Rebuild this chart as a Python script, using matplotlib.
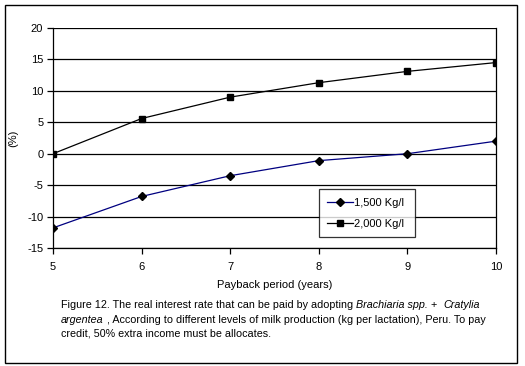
import matplotlib
matplotlib.use("Agg")
import matplotlib.pyplot as plt
from matplotlib.patches import Rectangle

plt.rcParams['font.family'] = ['Liberation Sans', 'DejaVu Sans']
plt.rcParams['axes.unicode_minus'] = False

years = [5, 6, 7, 8, 9, 10]
rate_1500 = [-11.8, -6.8, -3.5, -1.1, 0.0, 2.0]
rate_2000 = [0.0, 5.6, 9.0, 11.3, 13.1, 14.5]
labels = ["1,500 Kg/l", "2,000 Kg/l"]
yticks = [-15, -10, -5, 0, 5, 10, 15, 20]

FS = 8
CFS = 7.75
W, H = 525, 366
fig = plt.figure(figsize=(W / 100, H / 100), dpi=100)
# axes pixels: x 53..496, y 28..248 (from top)
ax = fig.add_axes([53 / W, 1 - 248 / H, (496 - 53) / W, (248 - 28) / H])

ax.plot(years, rate_1500, color='#000080', lw=0.9, marker='D', ms=4,
        mfc='black', mec='black', label=labels[0])
ax.plot(years, rate_2000, color='black', lw=0.9, marker='s', ms=4.5,
        mfc='black', mec='black', label=labels[1])

ax.set_xlim(5, 10)
ax.set_ylim(-15, 20)
ax.set_yticks(yticks)
ax.set_xticks(years)
ax.grid(axis='y', color='black', lw=0.9)
ax.set_axisbelow(True)
ax.spines['top'].set_visible(False)
for s in ['left', 'right', 'bottom']:
    ax.spines[s].set_linewidth(0.9)
ax.tick_params(axis='both', labelsize=FS, length=4, width=0.9, direction='out')
ax.tick_params(axis='y', pad=3)
ax.tick_params(axis='x', pad=6)
ax.set_xlabel("Payback period (years)", fontsize=FS, labelpad=6)
ax.set_ylabel("(%)", fontsize=FS)
ax.yaxis.set_label_coords((18 - 53) / (496 - 53), 0.5)

leg = ax.legend(loc='lower left', bbox_to_anchor=(0.60, 0.05, 0.217, 0.219),
                mode='expand', fontsize=FS, frameon=True, fancybox=False,
                edgecolor='black', handlelength=2.3, borderpad=0.75,
                labelspacing=1.0, handletextpad=0.1, borderaxespad=0)
leg.get_frame().set_linewidth(0.9)

# outer border
fig.patches.append(Rectangle((5 / W, 1 - 363 / H), (517 - 5) / W, (363 - 5) / H,
                             transform=fig.transFigure, fill=False,
                             edgecolor='black', lw=1.0))

# caption with mixed italics
fig.canvas.draw()
renderer = fig.canvas.get_renderer()
lines = [
    [("Figure 12. The real interest rate that can be paid by adopting ", 'normal'),
     ("Brachiaria spp.", 'italic'), (" +  ", 'normal'), ("Cratylia", 'italic')],
    [("argentea", 'italic'),
     (" , According to different levels of milk production (kg per lactation), Peru. To pay", 'normal')],
    [("credit, 50% extra income must be allocates.", 'normal')],
]
ys = [305, 320, 334]
for parts, yp in zip(lines, ys):
    x = 61
    for txt, style in parts:
        t = fig.text(x / W, 1 - yp / H, txt, fontsize=CFS, style=style,
                     ha='left', va='center')
        bb = t.get_window_extent(renderer)
        x += bb.width

fig.savefig("out.png", dpi=100)
